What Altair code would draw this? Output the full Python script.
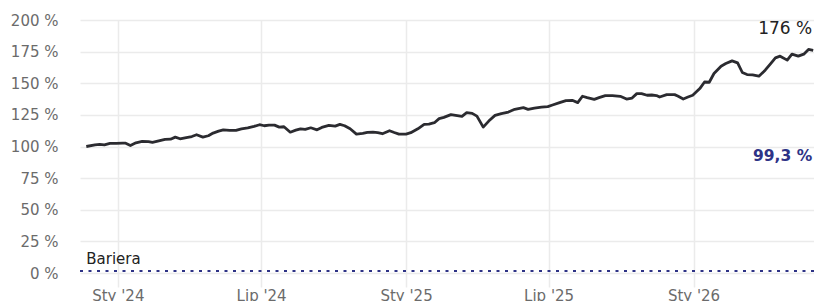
import altair as alt
import pandas as pd

dates = [
    "2023-11-22", "2023-12-03", "2023-12-09", "2023-12-15", "2023-12-22", "2023-12-30",
    "2024-01-07", "2024-01-11", "2024-01-17", "2024-01-24", "2024-02-01", "2024-02-09",
    "2024-02-14", "2024-02-22", "2024-03-01", "2024-03-08", "2024-03-14", "2024-03-20",
    "2024-03-28", "2024-04-04", "2024-04-10", "2024-04-18", "2024-04-25", "2024-05-01",
    "2024-05-08", "2024-05-14", "2024-05-22", "2024-05-30", "2024-06-06", "2024-06-14",
    "2024-06-22", "2024-06-29", "2024-07-05", "2024-07-11", "2024-07-18", "2024-07-24",
    "2024-07-30", "2024-08-07", "2024-08-14", "2024-08-20", "2024-08-26", "2024-09-02",
    "2024-09-10", "2024-09-16", "2024-09-25", "2024-10-03", "2024-10-09", "2024-10-15",
    "2024-10-22", "2024-10-30", "2024-11-07", "2024-11-13", "2024-11-20", "2024-11-26",
    "2024-12-02", "2024-12-11", "2024-12-17", "2024-12-23", "2025-01-01", "2025-01-07",
    "2025-01-16", "2025-01-24", "2025-01-30", "2025-02-06", "2025-02-12", "2025-02-18",
    "2025-02-27", "2025-03-05", "2025-03-13", "2025-03-19", "2025-03-26", "2025-04-01",
    "2025-04-09", "2025-04-16", "2025-04-24", "2025-05-02", "2025-05-11", "2025-05-19",
    "2025-05-30", "2025-06-05", "2025-06-13", "2025-06-22", "2025-06-30", "2025-07-06",
    "2025-07-15", "2025-07-23", "2025-07-31", "2025-08-07", "2025-08-13", "2025-08-19",
    "2025-08-28", "2025-09-03", "2025-09-11", "2025-09-20", "2025-09-30", "2025-10-08",
    "2025-10-15", "2025-10-21", "2025-10-27", "2025-11-03", "2025-11-09", "2025-11-15",
    "2025-11-19", "2025-11-28", "2025-12-08", "2025-12-12", "2025-12-19", "2025-12-25",
    "2025-12-31", "2026-01-09", "2026-01-15", "2026-01-21", "2026-01-27", "2026-02-05",
    "2026-02-11", "2026-02-19", "2026-02-26", "2026-03-04", "2026-03-10", "2026-03-17",
    "2026-03-25", "2026-04-02", "2026-04-09", "2026-04-15", "2026-04-21", "2026-04-30",
    "2026-05-06", "2026-05-14", "2026-05-21", "2026-05-27", "2026-06-02",
]
values = [
    100.0, 101.3, 101.6, 101.3, 102.4, 102.4,
    102.6, 102.6, 100.8, 102.9, 104.0, 103.8,
    103.2, 104.5, 105.6, 105.8, 107.4, 106.1,
    107.1, 107.9, 109.3, 107.4, 108.5, 110.6,
    112.1, 113.2, 112.7, 112.7, 114.0, 114.8,
    115.9, 117.2, 116.4, 116.9, 116.9, 115.3,
    115.6, 111.3, 112.9, 114.0, 113.5, 114.8,
    113.2, 115.1, 116.7, 116.1, 117.5, 116.4,
    114.0, 109.8, 110.3, 111.1, 111.3, 110.9,
    110.1, 112.5, 111.1, 109.8, 109.8, 110.9,
    114.0, 117.5, 117.7, 118.8, 122.0, 123.0,
    125.2, 124.6, 123.8, 126.7, 126.2, 124.0,
    115.3, 120.1, 124.6, 126.0, 127.2, 129.4,
    130.7, 129.4, 130.4, 131.2, 131.5, 132.8,
    134.7, 136.3, 136.5, 134.7, 139.7, 138.6,
    137.3, 138.6, 140.2, 140.2, 139.7, 137.5,
    138.3, 141.8, 141.8, 140.5, 140.7, 140.3,
    139.1, 141.0, 141.0, 139.9, 137.5, 139.1,
    140.5, 145.8, 151.0, 150.8, 157.7, 163.5,
    165.6, 167.7, 166.1, 158.5, 156.9, 156.6,
    155.6, 160.3, 165.6, 170.1, 171.4, 168.3,
    173.0, 171.4, 173.0, 176.7, 176.0,
]

tick_dates = ["2024-01-01", "2024-07-01", "2025-01-01", "2025-07-01", "2026-01-01"]
tick_labels = ["Sty '24", "Lip '24", "Sty '25", "Lip '25", "Sty '26"]
y_ticks = [0, 25, 50, 75, 100, 125, 150, 175, 200]

barrier_value = 0
barrier_label = "Bariera"
last_label = "176 %"
ratio_label = "99,3 %"

x_start = "2023-11-14"
x_end = "2026-06-03"

FONT = "DejaVu Sans"
NAVY = "#2e3386"


def dt(s):
    y, m, d = (int(p) for p in s.split("-"))
    return alt.DateTime(year=y, month=m, date=d)


df = pd.DataFrame({"date": [d + "T00:00:00" for d in dates], "value": values})

# label expression built from the tick lists
expr = '""'
for td, tl in reversed(list(zip(tick_dates, tick_labels))):
    ym = td[:7]
    expr = f"timeFormat(datum.value, '%Y-%m') == '{ym}' ? \"{tl}\" : ({expr})"

x_scale = alt.Scale(domain=[dt(x_start), dt(x_end)])
y_scale = alt.Scale(domain=[0, 200], nice=False)

x_enc = alt.X(
    "date:T",
    scale=x_scale,
    axis=alt.Axis(
        values=[dt(t) for t in tick_dates],
        labelExpr=expr,
        grid=True,
        gridColor="#ebebeb",
        gridWidth=1.5,
        ticks=True,
        tickColor="#ebebeb",
        tickWidth=1.5,
        tickSize=14,
        domain=False,
        labelPadding=1,
        labelFont=FONT,
        labelFontSize=15,
        labelColor="#6b6b6b",
        labelOverlap=False,
        title=None,
    ),
)
y_enc = alt.Y(
    "value:Q",
    scale=y_scale,
    axis=alt.Axis(
        values=y_ticks,
        labelExpr="datum.value + ' %'",
        grid=True,
        gridColor="#ebebeb",
        gridWidth=1.5,
        ticks=False,
        domain=False,
        labelPadding=22,
        labelFont=FONT,
        labelFontSize=15,
        labelColor="#6b6b6b",
        labelOverlap=False,
        title=None,
    ),
)

line = alt.Chart(df).mark_line(color="#2b2b30", strokeWidth=2.8, strokeJoin="round").encode(
    x=x_enc, y=y_enc
)

bar_df = pd.DataFrame({"value": [barrier_value]})
barrier = alt.Chart(bar_df).mark_rule(
    color=NAVY, strokeWidth=2, strokeDash=[3, 5.5], strokeCap="butt", yOffset=-2
).encode(y=y_enc)

first_df = pd.DataFrame({"date": [dates[0] + "T00:00:00"], "value": [barrier_value], "t": [barrier_label]})
bar_text = alt.Chart(first_df).mark_text(
    align="left", baseline="middle", dy=-14, font=FONT, fontSize=15, color="#222222"
).encode(x=x_enc, y=y_enc, text="t:N")

last_df = pd.DataFrame({"date": [dates[-1] + "T00:00:00"], "value": [values[-1]], "t": [last_label]})
last_text = alt.Chart(last_df).mark_text(
    align="right", baseline="middle", dy=-21, dx=-1, font=FONT, fontSize=17, color="#222222"
).encode(x=x_enc, y=y_enc, text="t:N")

ratio_df = pd.DataFrame({"date": [dates[-1] + "T00:00:00"], "value": [100], "t": [ratio_label]})
ratio_text = alt.Chart(ratio_df).mark_text(
    align="right", baseline="middle", dy=9, dx=-1, font=FONT, fontSize=15.5,
    fontWeight="bold", color=NAVY
).encode(x=x_enc, y=y_enc, text="t:N")

chart = (
    alt.layer(line, barrier, bar_text, last_text, ratio_text)
    .properties(
        width=734,
        height=253,
        autosize=alt.AutoSizeParams(type="none"),
        padding={"left": 72, "top": 12, "right": 0, "bottom": 28},
    )
    .configure_view(stroke=None)
)

chart.save("out.html", embed_options={"renderer": "svg", "actions": False})
